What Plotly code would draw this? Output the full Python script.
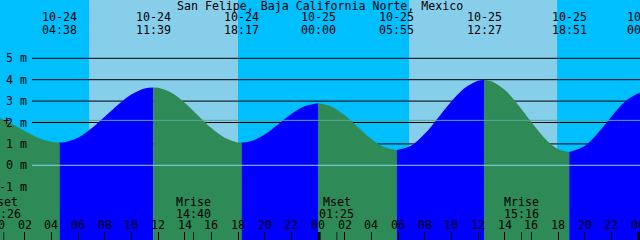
import plotly.graph_objects as go

TITLE = "San Felipe, Baja California Norte, Mexico"

# Tide extremes (day offset from 10-24, label date, time, height in m)
ext_day = [0, 0, 0, 1, 1, 1, 1, 2]
ext_date = ["10-24", "10-24", "10-24", "10-25", "10-25", "10-25", "10-25", "10-26"]
ext_time = ["04:38", "11:39", "18:17", "00:00", "05:55", "12:27", "18:51", "00:27"]
ext_m = [1.06, 3.64, 1.06, 2.90, 0.71, 3.99, 0.62, 3.40]

# Hourly tide heights (hours since 10-24 00:00)
hour_h = list(range(0, 49))
hour_m = [2.25, 1.95, 1.60, 1.29, 1.10, 1.08, 1.29, 1.72, 2.27, 2.83,
          3.31, 3.59, 3.62, 3.39, 2.92, 2.33, 1.74, 1.29, 1.07, 1.13,
          1.44, 1.91, 2.40, 2.76, 2.90, 2.75, 2.34, 1.78, 1.23, 0.84,
          0.71, 0.93, 1.47, 2.21, 2.98, 3.61, 3.95, 3.93, 3.53, 2.83,
          2.02, 1.27, 0.76, 0.62, 0.90, 1.51, 2.27, 2.96, 3.35]

# Daylight (sunrise, sunset) per day
sun_day = [0, 0, 1, 1]
sun_time = ["06:50", "18:00", "06:50", "17:56"]

# Moon events
moon_day = [0, 0, 1, 1]
moon_name = ["Mset", "Mrise", "Mset", "Mrise"]
moon_time = ["00:26", "14:40", "01:25", "15:16"]

# Axis ticks
tick_hours = [0, 2, 4, 6, 8, 10, 12, 14, 16, 18, 20, 22, 24,
              26, 28, 30, 32, 34, 36, 38, 40, 42, 44, 46, 48]
tick_text = ["00", "02", "04", "06", "08", "10", "12", "14", "16", "18", "20", "22", "00",
             "02", "04", "06", "08", "10", "12", "14", "16", "18", "20", "22", "00"]
midnights = [24, 48]
y_levels = [5, 4, 3, 2, 1, 0, -1]
y_labels = ["5 m", "4 m", "3 m", "2 m", "1 m", "0 m", "-1 m"]
mean_level = 2.1

X_RANGE = [0.15, 48.15]
Y_RANGE = [-3.49, 7.724]

NIGHT = "#00BFFF"
DAY = "#87CEEB"
FALL = "#2E8B57"
RISE = "#0000FF"
FONT = dict(family="DejaVu Sans Mono", size=11.6, color="black")


def to_h(day, t):
    hh, mm = t.split(":")
    return day * 24 + int(hh) + int(mm) / 60.0


ext_h = [to_h(d, t) for d, t in zip(ext_day, ext_time)]

# merge hourly readings with extremes
pts = [(h, m) for h, m in zip(ext_h, ext_m)]
for h, m in zip(hour_h, hour_m):
    if min(abs(h - e) for e in ext_h) > 0.25:
        pts.append((h, m))
pts.sort()

fig = go.Figure()

bounds = [hour_h[0]] + ext_h
for i in range(len(bounds) - 1):
    a, b = bounds[i], bounds[i + 1]
    seg = [(h, m) for h, m in pts if a - 1e-9 <= h <= b + 1e-9]
    if len(seg) < 2:
        continue
    xs = [p[0] for p in seg]
    ys = [p[1] for p in seg]
    rising = ys[-1] > ys[0]
    fig.add_trace(go.Scatter(x=xs, y=[-5] * len(xs), mode="lines",
                             line=dict(width=0), hoverinfo="skip", showlegend=False))
    fig.add_trace(go.Scatter(x=xs, y=ys, mode="lines", fill="tonexty",
                             fillcolor=RISE if rising else FALL,
                             line=dict(width=0, shape="spline", color=RISE if rising else FALL),
                             hoverinfo="skip", showlegend=False))

shapes = []
# daylight bands
sun_h = [to_h(d, t) for d, t in zip(sun_day, sun_time)]
for i in range(0, len(sun_h), 2):
    shapes.append(dict(type="rect", xref="x", yref="paper", x0=sun_h[i], x1=sun_h[i + 1],
                       y0=0, y1=1, fillcolor=DAY, line=dict(width=0), layer="below"))
# black level lines (behind tide)
for lv in [1, 2, 3, 4, 5]:
    shapes.append(dict(type="line", xref="paper", yref="y", x0=32 / 640, x1=1, y0=lv, y1=lv,
                       line=dict(color="black", width=1), layer="below"))
# light lines over tide
shapes.append(dict(type="line", xref="paper", yref="y", x0=32 / 640, x1=1, y0=0, y1=0,
                   line=dict(color="#8CCFEA", width=1), layer="above"))
shapes.append(dict(type="line", xref="paper", yref="y", x0=32 / 640, x1=1,
                   y0=mean_level, y1=mean_level,
                   line=dict(color="#5AA596", width=1), layer="above"))
# midnight bars
for m in midnights:
    shapes.append(dict(type="line", xref="x", yref="paper", x0=m + 0.08, x1=m + 0.08,
                       y0=0, y1=8 / 240, line=dict(color="black", width=3), layer="above"))
# moon event ticks
moon_h = [to_h(d, t) for d, t in zip(moon_day, moon_time)]
for mh in moon_h:
    shapes.append(dict(type="line", xref="x", yref="paper", x0=mh, x1=mh,
                       y0=0, y1=8 / 240, line=dict(color="#222222", width=1), layer="above"))

ann = []
ann.append(dict(text=TITLE, xref="paper", yref="paper", x=0.5, y=1 - 6 / 240,
                xanchor="center", yanchor="middle", showarrow=False, font=FONT))
for d, dt, t, h in zip(ext_day, ext_date, ext_time, ext_h):
    if X_RANGE[0] <= h <= X_RANGE[1]:
        xr, xv = "x", h
    else:
        xr, xv = "paper", (h - X_RANGE[0]) / (X_RANGE[1] - X_RANGE[0])
    ann.append(dict(text=dt, xref=xr, yref="paper", x=xv, y=1 - 17.5 / 240,
                    xanchor="center", yanchor="middle", showarrow=False, font=FONT))
    ann.append(dict(text=t, xref=xr, yref="paper", x=xv, y=1 - 29.5 / 240,
                    xanchor="center", yanchor="middle", showarrow=False, font=FONT))
for lv, lb in zip(y_levels, y_labels):
    ann.append(dict(text=lb, xref="paper", yref="y", x=28.8 / 640, y=lv,
                    xanchor="right", yanchor="middle", showarrow=False, font=FONT))
ann.append(dict(text="+", xref="paper", yref="y", x=1 / 640, y=mean_level - 0.05,
                xanchor="left", yanchor="middle", showarrow=False, font=FONT))
for n, t, h in zip(moon_name, moon_time, moon_h):
    ann.append(dict(text=n, xref="x", yref="paper", x=h, y=1 - 202 / 240,
                    xanchor="center", yanchor="middle", showarrow=False, font=FONT))
    ann.append(dict(text=t, xref="x", yref="paper", x=h, y=1 - 214 / 240,
                    xanchor="center", yanchor="middle", showarrow=False, font=FONT))
for th, tt in zip(tick_hours, tick_text):
    xr, xv = "x", th
    if not (X_RANGE[0] <= th <= X_RANGE[1]):
        xr, xv = "paper", (th - X_RANGE[0]) / (X_RANGE[1] - X_RANGE[0])
    ann.append(dict(text=tt, xref=xr, yref="paper", x=xv, y=1 - 224.5 / 240,
                    xanchor="center", yanchor="middle", showarrow=False, font=FONT))

fig.update_layout(
    width=640, height=240, margin=dict(l=0, r=0, t=0, b=0),
    paper_bgcolor=NIGHT, plot_bgcolor=NIGHT,
    shapes=shapes, annotations=ann, showlegend=False,
    xaxis=dict(range=X_RANGE, showgrid=False, zeroline=False, showline=False,
               ticks="inside", tickvals=tick_hours, ticklen=8, tickwidth=1,
               tickcolor="black", showticklabels=False, fixedrange=True),
    yaxis=dict(range=Y_RANGE, showgrid=False, zeroline=False, showline=False,
               showticklabels=False, ticks="", fixedrange=True),
)

fig.write_html("out.html", config={"displayModeBar": False})
